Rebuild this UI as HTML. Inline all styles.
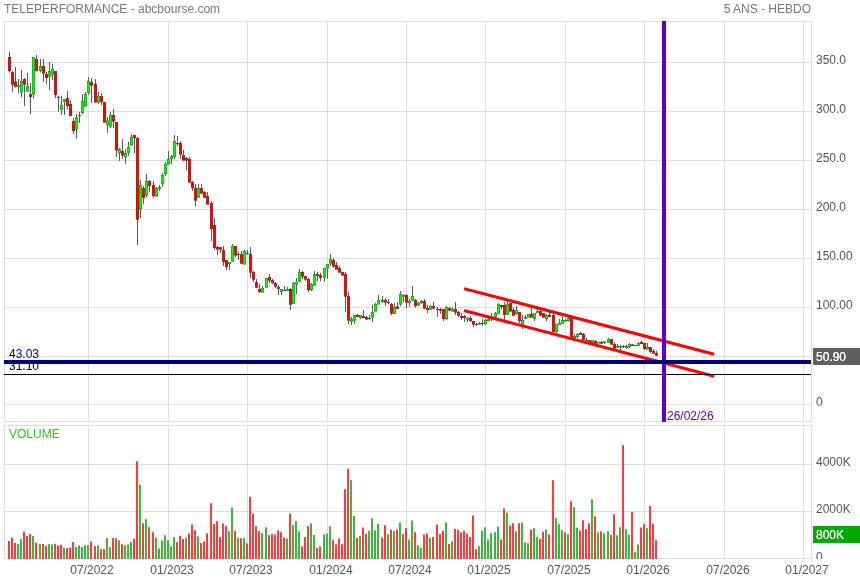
<!DOCTYPE html>
<html><head><meta charset="utf-8"><title>TELEPERFORMANCE - abcbourse.com</title>
<style>html,body{margin:0;padding:0;background:#fff;width:860px;height:580px;overflow:hidden}svg{display:block}text{font-family:"Liberation Sans",Arial,Helvetica,sans-serif;font-size:12px}</style></head><body>
<svg width="860" height="580" viewBox="0 0 860 580">
<rect width="860" height="580" fill="#fff"/>
<g shape-rendering="crispEdges" fill="#dddddd">
<rect x="88" y="21" width="1" height="401"/>
<rect x="88" y="425" width="1" height="134"/>
<rect x="168" y="21" width="1" height="401"/>
<rect x="168" y="425" width="1" height="134"/>
<rect x="247" y="21" width="1" height="401"/>
<rect x="247" y="425" width="1" height="134"/>
<rect x="327" y="21" width="1" height="401"/>
<rect x="327" y="425" width="1" height="134"/>
<rect x="406" y="21" width="1" height="401"/>
<rect x="406" y="425" width="1" height="134"/>
<rect x="485" y="21" width="1" height="401"/>
<rect x="485" y="425" width="1" height="134"/>
<rect x="565" y="21" width="1" height="401"/>
<rect x="565" y="425" width="1" height="134"/>
<rect x="644" y="21" width="1" height="401"/>
<rect x="644" y="425" width="1" height="134"/>
<rect x="724" y="21" width="1" height="401"/>
<rect x="724" y="425" width="1" height="134"/>
<rect x="803" y="21" width="1" height="401"/>
<rect x="803" y="425" width="1" height="134"/>
<rect x="4" y="62" width="808" height="1"/>
<rect x="4" y="111" width="808" height="1"/>
<rect x="4" y="160" width="808" height="1"/>
<rect x="4" y="209" width="808" height="1"/>
<rect x="4" y="258" width="808" height="1"/>
<rect x="4" y="307" width="808" height="1"/>
<rect x="4" y="356" width="808" height="1"/>
<rect x="4" y="404" width="808" height="1"/>
<rect x="3" y="464" width="809" height="1"/>
<rect x="3" y="511" width="809" height="1"/>
<rect x="4" y="21" width="808" height="1"/>
<rect x="4" y="421" width="808" height="1"/>
<rect x="4" y="21" width="1" height="401"/>
<rect x="811" y="21" width="1" height="401"/>
<rect x="4" y="425" width="808" height="1"/>
<rect x="4" y="558" width="808" height="1"/>
<rect x="4" y="425" width="1" height="134"/>
<rect x="811" y="425" width="1" height="134"/>
</g>
<g>
<g fill="#5a5a5a"><rect x="9" y="52.0" width="1" height="20.5"/><rect x="12" y="71.0" width="1" height="21.0"/><rect x="15" y="67.0" width="1" height="20.5"/><rect x="18" y="79.0" width="1" height="14.5"/><rect x="21" y="70.0" width="1" height="27.5"/><rect x="24" y="78.0" width="1" height="28.0"/><rect x="27" y="73.0" width="1" height="18.5"/><rect x="30" y="83.0" width="1" height="31.0"/><rect x="33" y="57.0" width="1" height="41.5"/><rect x="36" y="55.0" width="1" height="16.5"/><rect x="40" y="59.0" width="1" height="13.5"/><rect x="43" y="59.0" width="1" height="23.0"/><rect x="46" y="72.0" width="1" height="12.0"/><rect x="49" y="62.0" width="1" height="28.0"/><rect x="52" y="64.0" width="1" height="16.0"/><rect x="55" y="71.0" width="1" height="27.0"/><rect x="58" y="96.0" width="1" height="16.0"/><rect x="61" y="96.0" width="1" height="19.0"/><rect x="64" y="99.0" width="1" height="16.0"/><rect x="67" y="91.0" width="1" height="18.5"/><rect x="70" y="100.0" width="1" height="16.0"/><rect x="73" y="118.0" width="1" height="16.0"/><rect x="76" y="114.0" width="1" height="25.0"/><rect x="79" y="112.0" width="1" height="11.0"/><rect x="82" y="94.0" width="1" height="20.0"/><rect x="85" y="92.0" width="1" height="14.5"/><rect x="88" y="77.0" width="1" height="18.0"/><rect x="91" y="78.0" width="1" height="25.0"/><rect x="95" y="79.0" width="1" height="23.5"/><rect x="98" y="92.0" width="1" height="12.0"/><rect x="101" y="93.0" width="1" height="12.0"/><rect x="104" y="102.0" width="1" height="20.5"/><rect x="107" y="117.0" width="1" height="16.0"/><rect x="110" y="112.0" width="1" height="16.0"/><rect x="113" y="109.0" width="1" height="19.0"/><rect x="116" y="122.0" width="1" height="35.0"/><rect x="119" y="148.0" width="1" height="13.0"/><rect x="122" y="139.0" width="1" height="20.0"/><rect x="125" y="149.0" width="1" height="15.0"/><rect x="128" y="142.0" width="1" height="14.0"/><rect x="131" y="134.0" width="1" height="11.5"/><rect x="134" y="135.0" width="1" height="18.0"/><rect x="137" y="137.0" width="1" height="108.0"/><rect x="140" y="180.0" width="1" height="38.0"/><rect x="143" y="186.0" width="1" height="18.0"/><rect x="146" y="174.0" width="1" height="23.0"/><rect x="149" y="180.0" width="1" height="12.0"/><rect x="153" y="181.0" width="1" height="17.0"/><rect x="156" y="187.0" width="1" height="9.5"/><rect x="159" y="185.0" width="1" height="6.0"/><rect x="162" y="173.0" width="1" height="14.0"/><rect x="165" y="162.0" width="1" height="14.0"/><rect x="168" y="151.0" width="1" height="13.5"/><rect x="171" y="155.0" width="1" height="9.0"/><rect x="174" y="135.0" width="1" height="24.0"/><rect x="177" y="136.0" width="1" height="10.0"/><rect x="180" y="141.0" width="1" height="18.0"/><rect x="183" y="150.0" width="1" height="10.5"/><rect x="186" y="157.0" width="1" height="13.0"/><rect x="189" y="157.0" width="1" height="25.5"/><rect x="192" y="181.0" width="1" height="10.0"/><rect x="195" y="184.0" width="1" height="22.0"/><rect x="198" y="184.0" width="1" height="14.0"/><rect x="201" y="184.0" width="1" height="9.5"/><rect x="204" y="191.0" width="1" height="7.0"/><rect x="207" y="192.0" width="1" height="12.5"/><rect x="211" y="201.0" width="1" height="40.0"/><rect x="214" y="218.0" width="1" height="32.0"/><rect x="217" y="246.0" width="1" height="9.0"/><rect x="220" y="247.0" width="1" height="6.0"/><rect x="223" y="246.0" width="1" height="20.0"/><rect x="226" y="260.0" width="1" height="10.0"/><rect x="229" y="262.0" width="1" height="8.0"/><rect x="232" y="244.0" width="1" height="17.5"/><rect x="235" y="246.0" width="1" height="11.0"/><rect x="238" y="252.0" width="1" height="8.0"/><rect x="241" y="251.0" width="1" height="13.0"/><rect x="244" y="250.0" width="1" height="14.5"/><rect x="247" y="250.0" width="1" height="5.0"/><rect x="250" y="247.0" width="1" height="31.0"/><rect x="253" y="271.0" width="1" height="11.0"/><rect x="256" y="279.0" width="1" height="9.0"/><rect x="259" y="284.0" width="1" height="9.0"/><rect x="262" y="286.0" width="1" height="6.5"/><rect x="266" y="278.0" width="1" height="9.5"/><rect x="269" y="274.0" width="1" height="9.0"/><rect x="272" y="279.0" width="1" height="5.0"/><rect x="275" y="282.0" width="1" height="6.0"/><rect x="278" y="285.0" width="1" height="10.0"/><rect x="281" y="289.0" width="1" height="6.0"/><rect x="284" y="286.0" width="1" height="5.0"/><rect x="287" y="287.0" width="1" height="4.0"/><rect x="290" y="288.0" width="1" height="22.0"/><rect x="293" y="282.0" width="1" height="22.0"/><rect x="296" y="278.0" width="1" height="16.0"/><rect x="299" y="269.0" width="1" height="13.0"/><rect x="302" y="271.0" width="1" height="8.0"/><rect x="305" y="276.0" width="1" height="5.0"/><rect x="308" y="278.0" width="1" height="14.0"/><rect x="311" y="283.0" width="1" height="8.0"/><rect x="314" y="271.0" width="1" height="14.5"/><rect x="317" y="272.0" width="1" height="9.0"/><rect x="320" y="273.0" width="1" height="8.0"/><rect x="324" y="268.0" width="1" height="14.0"/><rect x="327" y="264.0" width="1" height="15.0"/><rect x="330" y="254.0" width="1" height="12.0"/><rect x="333" y="258.0" width="1" height="10.0"/><rect x="336" y="262.0" width="1" height="7.5"/><rect x="339" y="266.0" width="1" height="6.5"/><rect x="342" y="272.0" width="1" height="3.5"/><rect x="345" y="272.0" width="1" height="40.0"/><rect x="348" y="292.0" width="1" height="32.0"/><rect x="351" y="317.0" width="1" height="8.0"/><rect x="354" y="315.0" width="1" height="9.0"/><rect x="357" y="314.0" width="1" height="3.0"/><rect x="360" y="315.0" width="1" height="4.0"/><rect x="363" y="310.0" width="1" height="8.0"/><rect x="366" y="316.0" width="1" height="4.0"/><rect x="369" y="315.0" width="1" height="5.0"/><rect x="372" y="305.0" width="1" height="17.0"/><rect x="375" y="303.0" width="1" height="8.5"/><rect x="378" y="295.0" width="1" height="9.5"/><rect x="382" y="296.0" width="1" height="7.0"/><rect x="385" y="298.0" width="1" height="8.0"/><rect x="388" y="299.0" width="1" height="5.0"/><rect x="391" y="303.0" width="1" height="12.0"/><rect x="394" y="303.0" width="1" height="11.0"/><rect x="397" y="302.0" width="1" height="7.0"/><rect x="400" y="291.0" width="1" height="15.0"/><rect x="403" y="294.0" width="1" height="8.0"/><rect x="406" y="294.0" width="1" height="14.0"/><rect x="409" y="299.0" width="1" height="8.0"/><rect x="412" y="286.0" width="1" height="15.0"/><rect x="415" y="299.0" width="1" height="9.0"/><rect x="418" y="302.0" width="1" height="4.0"/><rect x="421" y="300.0" width="1" height="4.0"/><rect x="424" y="299.0" width="1" height="10.0"/><rect x="427" y="305.0" width="1" height="8.0"/><rect x="430" y="305.0" width="1" height="5.0"/><rect x="433" y="302.0" width="1" height="7.0"/><rect x="437" y="307.0" width="1" height="10.0"/><rect x="440" y="308.0" width="1" height="6.0"/><rect x="443" y="309.0" width="1" height="12.0"/><rect x="446" y="306.0" width="1" height="14.0"/><rect x="449" y="307.0" width="1" height="4.0"/><rect x="452" y="307.0" width="1" height="5.0"/><rect x="455" y="302.0" width="1" height="13.0"/><rect x="458" y="311.0" width="1" height="6.0"/><rect x="461" y="313.0" width="1" height="7.0"/><rect x="464" y="315.0" width="1" height="7.0"/><rect x="467" y="317.0" width="1" height="5.0"/><rect x="470" y="316.0" width="1" height="6.0"/><rect x="473" y="321.0" width="1" height="6.0"/><rect x="476" y="323.0" width="1" height="3.0"/><rect x="479" y="322.0" width="1" height="3.0"/><rect x="482" y="319.0" width="1" height="7.0"/><rect x="485" y="319.0" width="1" height="6.0"/><rect x="488" y="318.0" width="1" height="3.0"/><rect x="491" y="313.0" width="1" height="8.0"/><rect x="495" y="312.0" width="1" height="5.5"/><rect x="498" y="303.0" width="1" height="11.0"/><rect x="501" y="305.0" width="1" height="4.0"/><rect x="504" y="302.0" width="1" height="18.0"/><rect x="507" y="301.0" width="1" height="14.0"/><rect x="510" y="303.0" width="1" height="8.5"/><rect x="513" y="308.0" width="1" height="8.0"/><rect x="516" y="306.0" width="1" height="9.0"/><rect x="519" y="312.0" width="1" height="11.0"/><rect x="522" y="315.0" width="1" height="14.0"/><rect x="525" y="315.0" width="1" height="4.0"/><rect x="528" y="314.0" width="1" height="3.5"/><rect x="531" y="308.0" width="1" height="9.5"/><rect x="534" y="313.0" width="1" height="8.0"/><rect x="537" y="306.0" width="1" height="7.0"/><rect x="540" y="310.0" width="1" height="6.0"/><rect x="543" y="313.0" width="1" height="5.0"/><rect x="546" y="314.0" width="1" height="7.0"/><rect x="549" y="312.0" width="1" height="5.0"/><rect x="553" y="310.0" width="1" height="22.0"/><rect x="556" y="324.0" width="1" height="9.0"/><rect x="559" y="319.0" width="1" height="6.0"/><rect x="562" y="316.0" width="1" height="8.0"/><rect x="565" y="319.0" width="1" height="2.5"/><rect x="568" y="317.0" width="1" height="4.5"/><rect x="571" y="318.0" width="1" height="19.5"/><rect x="574" y="334.0" width="1" height="4.0"/><rect x="577" y="333.0" width="1" height="5.0"/><rect x="580" y="332.0" width="1" height="3.0"/><rect x="583" y="333.0" width="1" height="7.5"/><rect x="586" y="338.0" width="1" height="3.0"/><rect x="589" y="340.0" width="1" height="3.0"/><rect x="592" y="340.0" width="1" height="3.0"/><rect x="595" y="340.0" width="1" height="3.5"/><rect x="598" y="342.0" width="1" height="1.5"/><rect x="601" y="341.0" width="1" height="3.0"/><rect x="604" y="341.0" width="1" height="3.0"/><rect x="608" y="338.0" width="1" height="5.0"/><rect x="611" y="339.0" width="1" height="5.5"/><rect x="614" y="342.0" width="1" height="7.0"/><rect x="617" y="344.0" width="1" height="4.0"/><rect x="620" y="345.0" width="1" height="5.0"/><rect x="623" y="345.0" width="1" height="3.0"/><rect x="626" y="345.0" width="1" height="4.0"/><rect x="629" y="343.0" width="1" height="5.0"/><rect x="632" y="344.0" width="1" height="2.0"/><rect x="635" y="345.0" width="1" height="1"/><rect x="638" y="342.0" width="1" height="4.0"/><rect x="641" y="341.0" width="1" height="3.0"/><rect x="644" y="343.0" width="1" height="7.0"/><rect x="647" y="343.0" width="1" height="7.0"/><rect x="650" y="347.0" width="1" height="6.0"/><rect x="653" y="349.0" width="1" height="5.0"/><rect x="656" y="351.0" width="1" height="5.0"/></g>
<g><rect x="8" y="57.0" width="3" height="14.0" fill="#ff0000"/><rect x="11" y="72.0" width="3" height="12.5" fill="#ff0000"/><rect x="14" y="81.5" width="3" height="5.0" fill="#ff0000"/><rect x="17" y="85.0" width="3" height="2.0" fill="#00ff00"/><rect x="20" y="81.0" width="3" height="11.5" fill="#00ff00"/><rect x="23" y="79.0" width="3" height="5.5" fill="#ff0000"/><rect x="26" y="86.0" width="3" height="5.5" fill="#00ff00"/><rect x="29" y="94.0" width="3" height="3.0" fill="#ff0000"/><rect x="32" y="57.0" width="3" height="37.5" fill="#00ff00"/><rect x="35" y="59.0" width="3" height="12.0" fill="#ff0000"/><rect x="39" y="66.0" width="3" height="5.0" fill="#00ff00"/><rect x="42" y="66.0" width="3" height="7.5" fill="#ff0000"/><rect x="45" y="74.0" width="3" height="4.0" fill="#ff0000"/><rect x="48" y="71.0" width="3" height="5.5" fill="#00ff00"/><rect x="51" y="69.0" width="3" height="5.5" fill="#00ff00"/><rect x="54" y="71.0" width="3" height="24.0" fill="#ff0000"/><rect x="57" y="97" width="3" height="1" fill="#4c4c4c"/><rect x="60" y="105.0" width="3" height="4.5" fill="#00ff00"/><rect x="63" y="99.5" width="3" height="2.5" fill="#00ff00"/><rect x="66" y="98.0" width="3" height="8.0" fill="#ff0000"/><rect x="69" y="104.0" width="3" height="12.0" fill="#ff0000"/><rect x="72" y="121.0" width="3" height="10.0" fill="#ff0000"/><rect x="75" y="117.0" width="3" height="12.5" fill="#00ff00"/><rect x="78" y="115" width="3" height="1" fill="#4c4c4c"/><rect x="81" y="101.0" width="3" height="12.0" fill="#00ff00"/><rect x="84" y="94.0" width="3" height="12.5" fill="#00ff00"/><rect x="87" y="81.0" width="3" height="12.0" fill="#00ff00"/><rect x="90" y="82.0" width="3" height="3.5" fill="#ff0000"/><rect x="94" y="84.0" width="3" height="18.5" fill="#ff0000"/><rect x="97" y="96.0" width="3" height="6.5" fill="#00ff00"/><rect x="100" y="96.0" width="3" height="6.0" fill="#ff0000"/><rect x="103" y="102.0" width="3" height="20.5" fill="#ff0000"/><rect x="106" y="120.5" width="3" height="4.5" fill="#00ff00"/><rect x="109" y="115.0" width="3" height="11.5" fill="#00ff00"/><rect x="112" y="115.0" width="3" height="6.5" fill="#ff0000"/><rect x="115" y="122.0" width="3" height="28.5" fill="#ff0000"/><rect x="118" y="149.0" width="3" height="4.0" fill="#00ff00"/><rect x="121" y="151.0" width="3" height="4.5" fill="#ff0000"/><rect x="124" y="153.0" width="3" height="4.0" fill="#00ff00"/><rect x="127" y="147.0" width="3" height="6.0" fill="#00ff00"/><rect x="130" y="137.0" width="3" height="8.5" fill="#00ff00"/><rect x="133" y="135.0" width="3" height="3.0" fill="#ff0000"/><rect x="136" y="138.0" width="3" height="81.5" fill="#ff0000"/><rect x="139" y="185.0" width="3" height="24.5" fill="#00ff00"/><rect x="142" y="188.0" width="3" height="10.0" fill="#ff0000"/><rect x="145" y="181.0" width="3" height="14.5" fill="#00ff00"/><rect x="148" y="181.0" width="3" height="5.0" fill="#ff0000"/><rect x="152" y="185.0" width="3" height="11.0" fill="#ff0000"/><rect x="155" y="188.5" width="3" height="8.0" fill="#00ff00"/><rect x="158" y="187.0" width="3" height="2.0" fill="#00ff00"/><rect x="161" y="175.0" width="3" height="9.0" fill="#00ff00"/><rect x="164" y="164.0" width="3" height="10.0" fill="#00ff00"/><rect x="167" y="159.0" width="3" height="5.5" fill="#00ff00"/><rect x="170" y="156.0" width="3" height="3.0" fill="#00ff00"/><rect x="173" y="141.0" width="3" height="16.0" fill="#00ff00"/><rect x="176" y="143" width="3" height="1" fill="#4c4c4c"/><rect x="179" y="143.0" width="3" height="11.5" fill="#ff0000"/><rect x="182" y="155.0" width="3" height="5.5" fill="#ff0000"/><rect x="185" y="158.0" width="3" height="2.5" fill="#ff0000"/><rect x="188" y="159.0" width="3" height="23.5" fill="#ff0000"/><rect x="191" y="182.0" width="3" height="6.0" fill="#ff0000"/><rect x="194" y="188.0" width="3" height="12.5" fill="#ff0000"/><rect x="197" y="188.0" width="3" height="9.5" fill="#00ff00"/><rect x="200" y="188.0" width="3" height="5.5" fill="#ff0000"/><rect x="203" y="192.0" width="3" height="5.5" fill="#ff0000"/><rect x="206" y="196.0" width="3" height="8.5" fill="#ff0000"/><rect x="210" y="203.0" width="3" height="26.0" fill="#ff0000"/><rect x="213" y="225.0" width="3" height="23.0" fill="#ff0000"/><rect x="216" y="247.0" width="3" height="2.5" fill="#ff0000"/><rect x="219" y="247.0" width="3" height="2.5" fill="#ff0000"/><rect x="222" y="250.0" width="3" height="12.0" fill="#ff0000"/><rect x="225" y="260.0" width="3" height="7.0" fill="#ff0000"/><rect x="228" y="262.0" width="3" height="2.0" fill="#00ff00"/><rect x="231" y="246.0" width="3" height="15.5" fill="#00ff00"/><rect x="234" y="246.0" width="3" height="9.5" fill="#ff0000"/><rect x="237" y="254" width="3" height="1" fill="#4c4c4c"/><rect x="240" y="254.0" width="3" height="9.5" fill="#ff0000"/><rect x="243" y="251.0" width="3" height="13.5" fill="#00ff00"/><rect x="246" y="253" width="3" height="1" fill="#4c4c4c"/><rect x="249" y="254.0" width="3" height="18.5" fill="#ff0000"/><rect x="252" y="272.0" width="3" height="7.5" fill="#ff0000"/><rect x="255" y="282.0" width="3" height="5.5" fill="#ff0000"/><rect x="258" y="289.0" width="3" height="3.0" fill="#ff0000"/><rect x="261" y="288.0" width="3" height="4.5" fill="#00ff00"/><rect x="265" y="278.0" width="3" height="9.5" fill="#00ff00"/><rect x="268" y="277.0" width="3" height="3.5" fill="#ff0000"/><rect x="271" y="280.0" width="3" height="3.0" fill="#ff0000"/><rect x="274" y="283.0" width="3" height="3.5" fill="#ff0000"/><rect x="277" y="287.0" width="3" height="2.0" fill="#ff0000"/><rect x="280" y="289.0" width="3" height="3.0" fill="#00ff00"/><rect x="283" y="290" width="3" height="1" fill="#4c4c4c"/><rect x="286" y="289.0" width="3" height="2.0" fill="#00ff00"/><rect x="289" y="289.0" width="3" height="15.5" fill="#ff0000"/><rect x="292" y="283.0" width="3" height="21.0" fill="#00ff00"/><rect x="295" y="282.0" width="3" height="2.0" fill="#00ff00"/><rect x="298" y="272.0" width="3" height="9.5" fill="#00ff00"/><rect x="301" y="272.0" width="3" height="4.5" fill="#ff0000"/><rect x="304" y="276.0" width="3" height="3.5" fill="#ff0000"/><rect x="307" y="279.0" width="3" height="11.0" fill="#ff0000"/><rect x="310" y="284.0" width="3" height="6.0" fill="#00ff00"/><rect x="313" y="274.0" width="3" height="11.5" fill="#00ff00"/><rect x="316" y="274.0" width="3" height="2.0" fill="#ff0000"/><rect x="319" y="275.0" width="3" height="3.0" fill="#ff0000"/><rect x="323" y="268.0" width="3" height="9.5" fill="#00ff00"/><rect x="326" y="264.0" width="3" height="4.5" fill="#00ff00"/><rect x="329" y="259.0" width="3" height="4.5" fill="#00ff00"/><rect x="332" y="260.0" width="3" height="6.5" fill="#ff0000"/><rect x="335" y="265.0" width="3" height="4.5" fill="#ff0000"/><rect x="338" y="268.0" width="3" height="4.5" fill="#ff0000"/><rect x="341" y="272.0" width="3" height="3.5" fill="#ff0000"/><rect x="344" y="274.0" width="3" height="22.5" fill="#ff0000"/><rect x="347" y="296.0" width="3" height="24.5" fill="#ff0000"/><rect x="350" y="319.0" width="3" height="3.0" fill="#00ff00"/><rect x="353" y="315.0" width="3" height="5.5" fill="#00ff00"/><rect x="356" y="315.0" width="3" height="2.0" fill="#ff0000"/><rect x="359" y="315.0" width="3" height="3.0" fill="#00ff00"/><rect x="362" y="316.0" width="3" height="2.0" fill="#ff0000"/><rect x="365" y="317.0" width="3" height="2.5" fill="#ff0000"/><rect x="368" y="318" width="3" height="1" fill="#4c4c4c"/><rect x="371" y="312.0" width="3" height="5.5" fill="#00ff00"/><rect x="374" y="304.0" width="3" height="7.5" fill="#00ff00"/><rect x="377" y="300.0" width="3" height="4.5" fill="#00ff00"/><rect x="381" y="300.0" width="3" height="2.0" fill="#00ff00"/><rect x="384" y="300.0" width="3" height="2.5" fill="#ff0000"/><rect x="387" y="302" width="3" height="1" fill="#4c4c4c"/><rect x="390" y="304.0" width="3" height="9.5" fill="#ff0000"/><rect x="393" y="306.5" width="3" height="7.5" fill="#00ff00"/><rect x="396" y="306.5" width="3" height="2.5" fill="#ff0000"/><rect x="399" y="294.0" width="3" height="10.5" fill="#00ff00"/><rect x="402" y="295.0" width="3" height="2.0" fill="#00ff00"/><rect x="405" y="295.0" width="3" height="7.5" fill="#ff0000"/><rect x="408" y="301.0" width="3" height="2.0" fill="#00ff00"/><rect x="411" y="296.0" width="3" height="4.5" fill="#00ff00"/><rect x="414" y="300.0" width="3" height="6.0" fill="#ff0000"/><rect x="417" y="302.5" width="3" height="2.5" fill="#00ff00"/><rect x="420" y="301.0" width="3" height="2.0" fill="#00ff00"/><rect x="423" y="301.0" width="3" height="7.5" fill="#ff0000"/><rect x="426" y="308.0" width="3" height="2.0" fill="#ff0000"/><rect x="429" y="306.0" width="3" height="3.5" fill="#00ff00"/><rect x="432" y="306.0" width="3" height="2.5" fill="#ff0000"/><rect x="436" y="309" width="3" height="1" fill="#4c4c4c"/><rect x="439" y="309.0" width="3" height="1.5" fill="#ff0000"/><rect x="442" y="309.0" width="3" height="10.0" fill="#ff0000"/><rect x="445" y="307.0" width="3" height="12.0" fill="#00ff00"/><rect x="448" y="308.0" width="3" height="2.5" fill="#ff0000"/><rect x="451" y="309.0" width="3" height="2.5" fill="#00ff00"/><rect x="454" y="309.0" width="3" height="3.5" fill="#ff0000"/><rect x="457" y="312.0" width="3" height="3.5" fill="#ff0000"/><rect x="460" y="316.0" width="3" height="2.0" fill="#ff0000"/><rect x="463" y="316.0" width="3" height="2.0" fill="#ff0000"/><rect x="466" y="318.0" width="3" height="1.5" fill="#00ff00"/><rect x="469" y="318.0" width="3" height="3.0" fill="#ff0000"/><rect x="472" y="321.0" width="3" height="3.5" fill="#ff0000"/><rect x="475" y="324" width="3" height="1" fill="#4c4c4c"/><rect x="478" y="323.0" width="3" height="1.5" fill="#00ff00"/><rect x="481" y="323" width="3" height="1" fill="#4c4c4c"/><rect x="484" y="320.0" width="3" height="4.0" fill="#00ff00"/><rect x="487" y="319.0" width="3" height="2.0" fill="#00ff00"/><rect x="490" y="318.0" width="3" height="1.5" fill="#00ff00"/><rect x="494" y="313.0" width="3" height="4.5" fill="#00ff00"/><rect x="497" y="304.0" width="3" height="9.5" fill="#00ff00"/><rect x="500" y="305.0" width="3" height="2.0" fill="#ff0000"/><rect x="503" y="305.0" width="3" height="10.0" fill="#ff0000"/><rect x="506" y="304.0" width="3" height="10.5" fill="#00ff00"/><rect x="509" y="303.0" width="3" height="8.5" fill="#ff0000"/><rect x="512" y="310.0" width="3" height="5.5" fill="#ff0000"/><rect x="515" y="310.0" width="3" height="4.0" fill="#00ff00"/><rect x="518" y="312.0" width="3" height="9.0" fill="#ff0000"/><rect x="521" y="320.0" width="3" height="5.0" fill="#00ff00"/><rect x="524" y="317.0" width="3" height="2.0" fill="#00ff00"/><rect x="527" y="314.0" width="3" height="3.5" fill="#00ff00"/><rect x="530" y="314.0" width="3" height="3.5" fill="#ff0000"/><rect x="533" y="313.0" width="3" height="6.0" fill="#00ff00"/><rect x="536" y="311.0" width="3" height="2.0" fill="#00ff00"/><rect x="539" y="311.0" width="3" height="4.5" fill="#ff0000"/><rect x="542" y="313.0" width="3" height="4.5" fill="#ff0000"/><rect x="545" y="315.0" width="3" height="4.0" fill="#00ff00"/><rect x="548" y="315.0" width="3" height="2.0" fill="#ff0000"/><rect x="552" y="315.0" width="3" height="17.0" fill="#ff0000"/><rect x="555" y="324.0" width="3" height="8.0" fill="#00ff00"/><rect x="558" y="323.0" width="3" height="2.0" fill="#00ff00"/><rect x="561" y="320.0" width="3" height="3.5" fill="#00ff00"/><rect x="564" y="320.0" width="3" height="1.5" fill="#00ff00"/><rect x="567" y="318.0" width="3" height="3.0" fill="#00ff00"/><rect x="570" y="318.0" width="3" height="19.5" fill="#ff0000"/><rect x="573" y="336.0" width="3" height="2.0" fill="#00ff00"/><rect x="576" y="334.0" width="3" height="3.0" fill="#00ff00"/><rect x="579" y="333.0" width="3" height="2.0" fill="#ff0000"/><rect x="582" y="334.0" width="3" height="6.0" fill="#ff0000"/><rect x="585" y="340" width="3" height="1" fill="#4c4c4c"/><rect x="588" y="340.5" width="3" height="2.5" fill="#ff0000"/><rect x="591" y="340.0" width="3" height="3.0" fill="#00ff00"/><rect x="594" y="341.0" width="3" height="2.5" fill="#ff0000"/><rect x="597" y="342.0" width="3" height="1.5" fill="#00ff00"/><rect x="600" y="342.0" width="3" height="1.5" fill="#ff0000"/><rect x="603" y="341.5" width="3" height="1.5" fill="#00ff00"/><rect x="607" y="339.0" width="3" height="3.5" fill="#00ff00"/><rect x="610" y="339.0" width="3" height="5.5" fill="#ff0000"/><rect x="613" y="344.0" width="3" height="4.5" fill="#ff0000"/><rect x="616" y="346.0" width="3" height="1.5" fill="#00ff00"/><rect x="619" y="346.0" width="3" height="1.5" fill="#00ff00"/><rect x="622" y="346" width="3" height="1" fill="#4c4c4c"/><rect x="625" y="346.0" width="3" height="2.0" fill="#00ff00"/><rect x="628" y="344.0" width="3" height="3.0" fill="#00ff00"/><rect x="631" y="344.5" width="3" height="1.5" fill="#ff0000"/><rect x="634" y="345" width="3" height="1" fill="#4c4c4c"/><rect x="637" y="343.0" width="3" height="2.5" fill="#00ff00"/><rect x="640" y="342.0" width="3" height="2.0" fill="#ff0000"/><rect x="643" y="343.0" width="3" height="6.0" fill="#ff0000"/><rect x="646" y="347.0" width="3" height="2.5" fill="#00ff00"/><rect x="649" y="347.0" width="3" height="5.0" fill="#ff0000"/><rect x="652" y="351.0" width="3" height="2.5" fill="#ff0000"/><rect x="655" y="353.0" width="3" height="2.5" fill="#ff0000"/></g>
<g fill="#484848" fill-opacity="0.36"><rect x="8" y="57.0" width="3" height="1"/><rect x="8" y="70.0" width="3" height="1"/><rect x="8" y="57.0" width="1" height="14.0"/><rect x="10" y="57.0" width="1" height="14.0"/><rect x="11" y="72.0" width="3" height="1"/><rect x="11" y="83.5" width="3" height="1"/><rect x="11" y="72.0" width="1" height="12.5"/><rect x="13" y="72.0" width="1" height="12.5"/><rect x="14" y="81.5" width="3" height="1"/><rect x="14" y="85.5" width="3" height="1"/><rect x="14" y="81.5" width="1" height="5.0"/><rect x="16" y="81.5" width="1" height="5.0"/><rect x="17" y="85.0" width="3" height="1"/><rect x="17" y="86.0" width="3" height="1"/><rect x="17" y="85.0" width="1" height="2.0"/><rect x="19" y="85.0" width="1" height="2.0"/><rect x="20" y="81.0" width="3" height="1"/><rect x="20" y="91.5" width="3" height="1"/><rect x="20" y="81.0" width="1" height="11.5"/><rect x="22" y="81.0" width="1" height="11.5"/><rect x="23" y="79.0" width="3" height="1"/><rect x="23" y="83.5" width="3" height="1"/><rect x="23" y="79.0" width="1" height="5.5"/><rect x="25" y="79.0" width="1" height="5.5"/><rect x="26" y="86.0" width="3" height="1"/><rect x="26" y="90.5" width="3" height="1"/><rect x="26" y="86.0" width="1" height="5.5"/><rect x="28" y="86.0" width="1" height="5.5"/><rect x="29" y="94.0" width="3" height="1"/><rect x="29" y="96.0" width="3" height="1"/><rect x="29" y="94.0" width="1" height="3.0"/><rect x="31" y="94.0" width="1" height="3.0"/><rect x="32" y="57.0" width="3" height="1"/><rect x="32" y="93.5" width="3" height="1"/><rect x="32" y="57.0" width="1" height="37.5"/><rect x="34" y="57.0" width="1" height="37.5"/><rect x="35" y="59.0" width="3" height="1"/><rect x="35" y="70.0" width="3" height="1"/><rect x="35" y="59.0" width="1" height="12.0"/><rect x="37" y="59.0" width="1" height="12.0"/><rect x="39" y="66.0" width="3" height="1"/><rect x="39" y="70.0" width="3" height="1"/><rect x="39" y="66.0" width="1" height="5.0"/><rect x="41" y="66.0" width="1" height="5.0"/><rect x="42" y="66.0" width="3" height="1"/><rect x="42" y="72.5" width="3" height="1"/><rect x="42" y="66.0" width="1" height="7.5"/><rect x="44" y="66.0" width="1" height="7.5"/><rect x="45" y="74.0" width="3" height="1"/><rect x="45" y="77.0" width="3" height="1"/><rect x="45" y="74.0" width="1" height="4.0"/><rect x="47" y="74.0" width="1" height="4.0"/><rect x="48" y="71.0" width="3" height="1"/><rect x="48" y="75.5" width="3" height="1"/><rect x="48" y="71.0" width="1" height="5.5"/><rect x="50" y="71.0" width="1" height="5.5"/><rect x="51" y="69.0" width="3" height="1"/><rect x="51" y="73.5" width="3" height="1"/><rect x="51" y="69.0" width="1" height="5.5"/><rect x="53" y="69.0" width="1" height="5.5"/><rect x="54" y="71.0" width="3" height="1"/><rect x="54" y="94.0" width="3" height="1"/><rect x="54" y="71.0" width="1" height="24.0"/><rect x="56" y="71.0" width="1" height="24.0"/><rect x="60" y="105.0" width="3" height="1"/><rect x="60" y="108.5" width="3" height="1"/><rect x="60" y="105.0" width="1" height="4.5"/><rect x="62" y="105.0" width="1" height="4.5"/><rect x="63" y="99.5" width="3" height="1"/><rect x="63" y="101.0" width="3" height="1"/><rect x="63" y="99.5" width="1" height="2.5"/><rect x="65" y="99.5" width="1" height="2.5"/><rect x="66" y="98.0" width="3" height="1"/><rect x="66" y="105.0" width="3" height="1"/><rect x="66" y="98.0" width="1" height="8.0"/><rect x="68" y="98.0" width="1" height="8.0"/><rect x="69" y="104.0" width="3" height="1"/><rect x="69" y="115.0" width="3" height="1"/><rect x="69" y="104.0" width="1" height="12.0"/><rect x="71" y="104.0" width="1" height="12.0"/><rect x="72" y="121.0" width="3" height="1"/><rect x="72" y="130.0" width="3" height="1"/><rect x="72" y="121.0" width="1" height="10.0"/><rect x="74" y="121.0" width="1" height="10.0"/><rect x="75" y="117.0" width="3" height="1"/><rect x="75" y="128.5" width="3" height="1"/><rect x="75" y="117.0" width="1" height="12.5"/><rect x="77" y="117.0" width="1" height="12.5"/><rect x="81" y="101.0" width="3" height="1"/><rect x="81" y="112.0" width="3" height="1"/><rect x="81" y="101.0" width="1" height="12.0"/><rect x="83" y="101.0" width="1" height="12.0"/><rect x="84" y="94.0" width="3" height="1"/><rect x="84" y="105.5" width="3" height="1"/><rect x="84" y="94.0" width="1" height="12.5"/><rect x="86" y="94.0" width="1" height="12.5"/><rect x="87" y="81.0" width="3" height="1"/><rect x="87" y="92.0" width="3" height="1"/><rect x="87" y="81.0" width="1" height="12.0"/><rect x="89" y="81.0" width="1" height="12.0"/><rect x="90" y="82.0" width="3" height="1"/><rect x="90" y="84.5" width="3" height="1"/><rect x="90" y="82.0" width="1" height="3.5"/><rect x="92" y="82.0" width="1" height="3.5"/><rect x="94" y="84.0" width="3" height="1"/><rect x="94" y="101.5" width="3" height="1"/><rect x="94" y="84.0" width="1" height="18.5"/><rect x="96" y="84.0" width="1" height="18.5"/><rect x="97" y="96.0" width="3" height="1"/><rect x="97" y="101.5" width="3" height="1"/><rect x="97" y="96.0" width="1" height="6.5"/><rect x="99" y="96.0" width="1" height="6.5"/><rect x="100" y="96.0" width="3" height="1"/><rect x="100" y="101.0" width="3" height="1"/><rect x="100" y="96.0" width="1" height="6.0"/><rect x="102" y="96.0" width="1" height="6.0"/><rect x="103" y="102.0" width="3" height="1"/><rect x="103" y="121.5" width="3" height="1"/><rect x="103" y="102.0" width="1" height="20.5"/><rect x="105" y="102.0" width="1" height="20.5"/><rect x="106" y="120.5" width="3" height="1"/><rect x="106" y="124.0" width="3" height="1"/><rect x="106" y="120.5" width="1" height="4.5"/><rect x="108" y="120.5" width="1" height="4.5"/><rect x="109" y="115.0" width="3" height="1"/><rect x="109" y="125.5" width="3" height="1"/><rect x="109" y="115.0" width="1" height="11.5"/><rect x="111" y="115.0" width="1" height="11.5"/><rect x="112" y="115.0" width="3" height="1"/><rect x="112" y="120.5" width="3" height="1"/><rect x="112" y="115.0" width="1" height="6.5"/><rect x="114" y="115.0" width="1" height="6.5"/><rect x="115" y="122.0" width="3" height="1"/><rect x="115" y="149.5" width="3" height="1"/><rect x="115" y="122.0" width="1" height="28.5"/><rect x="117" y="122.0" width="1" height="28.5"/><rect x="118" y="149.0" width="3" height="1"/><rect x="118" y="152.0" width="3" height="1"/><rect x="118" y="149.0" width="1" height="4.0"/><rect x="120" y="149.0" width="1" height="4.0"/><rect x="121" y="151.0" width="3" height="1"/><rect x="121" y="154.5" width="3" height="1"/><rect x="121" y="151.0" width="1" height="4.5"/><rect x="123" y="151.0" width="1" height="4.5"/><rect x="124" y="153.0" width="3" height="1"/><rect x="124" y="156.0" width="3" height="1"/><rect x="124" y="153.0" width="1" height="4.0"/><rect x="126" y="153.0" width="1" height="4.0"/><rect x="127" y="147.0" width="3" height="1"/><rect x="127" y="152.0" width="3" height="1"/><rect x="127" y="147.0" width="1" height="6.0"/><rect x="129" y="147.0" width="1" height="6.0"/><rect x="130" y="137.0" width="3" height="1"/><rect x="130" y="144.5" width="3" height="1"/><rect x="130" y="137.0" width="1" height="8.5"/><rect x="132" y="137.0" width="1" height="8.5"/><rect x="133" y="135.0" width="3" height="1"/><rect x="133" y="137.0" width="3" height="1"/><rect x="133" y="135.0" width="1" height="3.0"/><rect x="135" y="135.0" width="1" height="3.0"/><rect x="136" y="138.0" width="3" height="1"/><rect x="136" y="218.5" width="3" height="1"/><rect x="136" y="138.0" width="1" height="81.5"/><rect x="138" y="138.0" width="1" height="81.5"/><rect x="139" y="185.0" width="3" height="1"/><rect x="139" y="208.5" width="3" height="1"/><rect x="139" y="185.0" width="1" height="24.5"/><rect x="141" y="185.0" width="1" height="24.5"/><rect x="142" y="188.0" width="3" height="1"/><rect x="142" y="197.0" width="3" height="1"/><rect x="142" y="188.0" width="1" height="10.0"/><rect x="144" y="188.0" width="1" height="10.0"/><rect x="145" y="181.0" width="3" height="1"/><rect x="145" y="194.5" width="3" height="1"/><rect x="145" y="181.0" width="1" height="14.5"/><rect x="147" y="181.0" width="1" height="14.5"/><rect x="148" y="181.0" width="3" height="1"/><rect x="148" y="185.0" width="3" height="1"/><rect x="148" y="181.0" width="1" height="5.0"/><rect x="150" y="181.0" width="1" height="5.0"/><rect x="152" y="185.0" width="3" height="1"/><rect x="152" y="195.0" width="3" height="1"/><rect x="152" y="185.0" width="1" height="11.0"/><rect x="154" y="185.0" width="1" height="11.0"/><rect x="155" y="188.5" width="3" height="1"/><rect x="155" y="195.5" width="3" height="1"/><rect x="155" y="188.5" width="1" height="8.0"/><rect x="157" y="188.5" width="1" height="8.0"/><rect x="158" y="187.0" width="3" height="1"/><rect x="158" y="188.0" width="3" height="1"/><rect x="158" y="187.0" width="1" height="2.0"/><rect x="160" y="187.0" width="1" height="2.0"/><rect x="161" y="175.0" width="3" height="1"/><rect x="161" y="183.0" width="3" height="1"/><rect x="161" y="175.0" width="1" height="9.0"/><rect x="163" y="175.0" width="1" height="9.0"/><rect x="164" y="164.0" width="3" height="1"/><rect x="164" y="173.0" width="3" height="1"/><rect x="164" y="164.0" width="1" height="10.0"/><rect x="166" y="164.0" width="1" height="10.0"/><rect x="167" y="159.0" width="3" height="1"/><rect x="167" y="163.5" width="3" height="1"/><rect x="167" y="159.0" width="1" height="5.5"/><rect x="169" y="159.0" width="1" height="5.5"/><rect x="170" y="156.0" width="3" height="1"/><rect x="170" y="158.0" width="3" height="1"/><rect x="170" y="156.0" width="1" height="3.0"/><rect x="172" y="156.0" width="1" height="3.0"/><rect x="173" y="141.0" width="3" height="1"/><rect x="173" y="156.0" width="3" height="1"/><rect x="173" y="141.0" width="1" height="16.0"/><rect x="175" y="141.0" width="1" height="16.0"/><rect x="179" y="143.0" width="3" height="1"/><rect x="179" y="153.5" width="3" height="1"/><rect x="179" y="143.0" width="1" height="11.5"/><rect x="181" y="143.0" width="1" height="11.5"/><rect x="182" y="155.0" width="3" height="1"/><rect x="182" y="159.5" width="3" height="1"/><rect x="182" y="155.0" width="1" height="5.5"/><rect x="184" y="155.0" width="1" height="5.5"/><rect x="185" y="158.0" width="3" height="1"/><rect x="185" y="159.5" width="3" height="1"/><rect x="185" y="158.0" width="1" height="2.5"/><rect x="187" y="158.0" width="1" height="2.5"/><rect x="188" y="159.0" width="3" height="1"/><rect x="188" y="181.5" width="3" height="1"/><rect x="188" y="159.0" width="1" height="23.5"/><rect x="190" y="159.0" width="1" height="23.5"/><rect x="191" y="182.0" width="3" height="1"/><rect x="191" y="187.0" width="3" height="1"/><rect x="191" y="182.0" width="1" height="6.0"/><rect x="193" y="182.0" width="1" height="6.0"/><rect x="194" y="188.0" width="3" height="1"/><rect x="194" y="199.5" width="3" height="1"/><rect x="194" y="188.0" width="1" height="12.5"/><rect x="196" y="188.0" width="1" height="12.5"/><rect x="197" y="188.0" width="3" height="1"/><rect x="197" y="196.5" width="3" height="1"/><rect x="197" y="188.0" width="1" height="9.5"/><rect x="199" y="188.0" width="1" height="9.5"/><rect x="200" y="188.0" width="3" height="1"/><rect x="200" y="192.5" width="3" height="1"/><rect x="200" y="188.0" width="1" height="5.5"/><rect x="202" y="188.0" width="1" height="5.5"/><rect x="203" y="192.0" width="3" height="1"/><rect x="203" y="196.5" width="3" height="1"/><rect x="203" y="192.0" width="1" height="5.5"/><rect x="205" y="192.0" width="1" height="5.5"/><rect x="206" y="196.0" width="3" height="1"/><rect x="206" y="203.5" width="3" height="1"/><rect x="206" y="196.0" width="1" height="8.5"/><rect x="208" y="196.0" width="1" height="8.5"/><rect x="210" y="203.0" width="3" height="1"/><rect x="210" y="228.0" width="3" height="1"/><rect x="210" y="203.0" width="1" height="26.0"/><rect x="212" y="203.0" width="1" height="26.0"/><rect x="213" y="225.0" width="3" height="1"/><rect x="213" y="247.0" width="3" height="1"/><rect x="213" y="225.0" width="1" height="23.0"/><rect x="215" y="225.0" width="1" height="23.0"/><rect x="216" y="247.0" width="3" height="1"/><rect x="216" y="248.5" width="3" height="1"/><rect x="216" y="247.0" width="1" height="2.5"/><rect x="218" y="247.0" width="1" height="2.5"/><rect x="219" y="247.0" width="3" height="1"/><rect x="219" y="248.5" width="3" height="1"/><rect x="219" y="247.0" width="1" height="2.5"/><rect x="221" y="247.0" width="1" height="2.5"/><rect x="222" y="250.0" width="3" height="1"/><rect x="222" y="261.0" width="3" height="1"/><rect x="222" y="250.0" width="1" height="12.0"/><rect x="224" y="250.0" width="1" height="12.0"/><rect x="225" y="260.0" width="3" height="1"/><rect x="225" y="266.0" width="3" height="1"/><rect x="225" y="260.0" width="1" height="7.0"/><rect x="227" y="260.0" width="1" height="7.0"/><rect x="228" y="262.0" width="3" height="1"/><rect x="228" y="263.0" width="3" height="1"/><rect x="228" y="262.0" width="1" height="2.0"/><rect x="230" y="262.0" width="1" height="2.0"/><rect x="231" y="246.0" width="3" height="1"/><rect x="231" y="260.5" width="3" height="1"/><rect x="231" y="246.0" width="1" height="15.5"/><rect x="233" y="246.0" width="1" height="15.5"/><rect x="234" y="246.0" width="3" height="1"/><rect x="234" y="254.5" width="3" height="1"/><rect x="234" y="246.0" width="1" height="9.5"/><rect x="236" y="246.0" width="1" height="9.5"/><rect x="240" y="254.0" width="3" height="1"/><rect x="240" y="262.5" width="3" height="1"/><rect x="240" y="254.0" width="1" height="9.5"/><rect x="242" y="254.0" width="1" height="9.5"/><rect x="243" y="251.0" width="3" height="1"/><rect x="243" y="263.5" width="3" height="1"/><rect x="243" y="251.0" width="1" height="13.5"/><rect x="245" y="251.0" width="1" height="13.5"/><rect x="249" y="254.0" width="3" height="1"/><rect x="249" y="271.5" width="3" height="1"/><rect x="249" y="254.0" width="1" height="18.5"/><rect x="251" y="254.0" width="1" height="18.5"/><rect x="252" y="272.0" width="3" height="1"/><rect x="252" y="278.5" width="3" height="1"/><rect x="252" y="272.0" width="1" height="7.5"/><rect x="254" y="272.0" width="1" height="7.5"/><rect x="255" y="282.0" width="3" height="1"/><rect x="255" y="286.5" width="3" height="1"/><rect x="255" y="282.0" width="1" height="5.5"/><rect x="257" y="282.0" width="1" height="5.5"/><rect x="258" y="289.0" width="3" height="1"/><rect x="258" y="291.0" width="3" height="1"/><rect x="258" y="289.0" width="1" height="3.0"/><rect x="260" y="289.0" width="1" height="3.0"/><rect x="261" y="288.0" width="3" height="1"/><rect x="261" y="291.5" width="3" height="1"/><rect x="261" y="288.0" width="1" height="4.5"/><rect x="263" y="288.0" width="1" height="4.5"/><rect x="265" y="278.0" width="3" height="1"/><rect x="265" y="286.5" width="3" height="1"/><rect x="265" y="278.0" width="1" height="9.5"/><rect x="267" y="278.0" width="1" height="9.5"/><rect x="268" y="277.0" width="3" height="1"/><rect x="268" y="279.5" width="3" height="1"/><rect x="268" y="277.0" width="1" height="3.5"/><rect x="270" y="277.0" width="1" height="3.5"/><rect x="271" y="280.0" width="3" height="1"/><rect x="271" y="282.0" width="3" height="1"/><rect x="271" y="280.0" width="1" height="3.0"/><rect x="273" y="280.0" width="1" height="3.0"/><rect x="274" y="283.0" width="3" height="1"/><rect x="274" y="285.5" width="3" height="1"/><rect x="274" y="283.0" width="1" height="3.5"/><rect x="276" y="283.0" width="1" height="3.5"/><rect x="277" y="287.0" width="3" height="1"/><rect x="277" y="288.0" width="3" height="1"/><rect x="277" y="287.0" width="1" height="2.0"/><rect x="279" y="287.0" width="1" height="2.0"/><rect x="280" y="289.0" width="3" height="1"/><rect x="280" y="291.0" width="3" height="1"/><rect x="280" y="289.0" width="1" height="3.0"/><rect x="282" y="289.0" width="1" height="3.0"/><rect x="286" y="289.0" width="3" height="1"/><rect x="286" y="290.0" width="3" height="1"/><rect x="286" y="289.0" width="1" height="2.0"/><rect x="288" y="289.0" width="1" height="2.0"/><rect x="289" y="289.0" width="3" height="1"/><rect x="289" y="303.5" width="3" height="1"/><rect x="289" y="289.0" width="1" height="15.5"/><rect x="291" y="289.0" width="1" height="15.5"/><rect x="292" y="283.0" width="3" height="1"/><rect x="292" y="303.0" width="3" height="1"/><rect x="292" y="283.0" width="1" height="21.0"/><rect x="294" y="283.0" width="1" height="21.0"/><rect x="295" y="282.0" width="3" height="1"/><rect x="295" y="283.0" width="3" height="1"/><rect x="295" y="282.0" width="1" height="2.0"/><rect x="297" y="282.0" width="1" height="2.0"/><rect x="298" y="272.0" width="3" height="1"/><rect x="298" y="280.5" width="3" height="1"/><rect x="298" y="272.0" width="1" height="9.5"/><rect x="300" y="272.0" width="1" height="9.5"/><rect x="301" y="272.0" width="3" height="1"/><rect x="301" y="275.5" width="3" height="1"/><rect x="301" y="272.0" width="1" height="4.5"/><rect x="303" y="272.0" width="1" height="4.5"/><rect x="304" y="276.0" width="3" height="1"/><rect x="304" y="278.5" width="3" height="1"/><rect x="304" y="276.0" width="1" height="3.5"/><rect x="306" y="276.0" width="1" height="3.5"/><rect x="307" y="279.0" width="3" height="1"/><rect x="307" y="289.0" width="3" height="1"/><rect x="307" y="279.0" width="1" height="11.0"/><rect x="309" y="279.0" width="1" height="11.0"/><rect x="310" y="284.0" width="3" height="1"/><rect x="310" y="289.0" width="3" height="1"/><rect x="310" y="284.0" width="1" height="6.0"/><rect x="312" y="284.0" width="1" height="6.0"/><rect x="313" y="274.0" width="3" height="1"/><rect x="313" y="284.5" width="3" height="1"/><rect x="313" y="274.0" width="1" height="11.5"/><rect x="315" y="274.0" width="1" height="11.5"/><rect x="316" y="274.0" width="3" height="1"/><rect x="316" y="275.0" width="3" height="1"/><rect x="316" y="274.0" width="1" height="2.0"/><rect x="318" y="274.0" width="1" height="2.0"/><rect x="319" y="275.0" width="3" height="1"/><rect x="319" y="277.0" width="3" height="1"/><rect x="319" y="275.0" width="1" height="3.0"/><rect x="321" y="275.0" width="1" height="3.0"/><rect x="323" y="268.0" width="3" height="1"/><rect x="323" y="276.5" width="3" height="1"/><rect x="323" y="268.0" width="1" height="9.5"/><rect x="325" y="268.0" width="1" height="9.5"/><rect x="326" y="264.0" width="3" height="1"/><rect x="326" y="267.5" width="3" height="1"/><rect x="326" y="264.0" width="1" height="4.5"/><rect x="328" y="264.0" width="1" height="4.5"/><rect x="329" y="259.0" width="3" height="1"/><rect x="329" y="262.5" width="3" height="1"/><rect x="329" y="259.0" width="1" height="4.5"/><rect x="331" y="259.0" width="1" height="4.5"/><rect x="332" y="260.0" width="3" height="1"/><rect x="332" y="265.5" width="3" height="1"/><rect x="332" y="260.0" width="1" height="6.5"/><rect x="334" y="260.0" width="1" height="6.5"/><rect x="335" y="265.0" width="3" height="1"/><rect x="335" y="268.5" width="3" height="1"/><rect x="335" y="265.0" width="1" height="4.5"/><rect x="337" y="265.0" width="1" height="4.5"/><rect x="338" y="268.0" width="3" height="1"/><rect x="338" y="271.5" width="3" height="1"/><rect x="338" y="268.0" width="1" height="4.5"/><rect x="340" y="268.0" width="1" height="4.5"/><rect x="341" y="272.0" width="3" height="1"/><rect x="341" y="274.5" width="3" height="1"/><rect x="341" y="272.0" width="1" height="3.5"/><rect x="343" y="272.0" width="1" height="3.5"/><rect x="344" y="274.0" width="3" height="1"/><rect x="344" y="295.5" width="3" height="1"/><rect x="344" y="274.0" width="1" height="22.5"/><rect x="346" y="274.0" width="1" height="22.5"/><rect x="347" y="296.0" width="3" height="1"/><rect x="347" y="319.5" width="3" height="1"/><rect x="347" y="296.0" width="1" height="24.5"/><rect x="349" y="296.0" width="1" height="24.5"/><rect x="350" y="319.0" width="3" height="1"/><rect x="350" y="321.0" width="3" height="1"/><rect x="350" y="319.0" width="1" height="3.0"/><rect x="352" y="319.0" width="1" height="3.0"/><rect x="353" y="315.0" width="3" height="1"/><rect x="353" y="319.5" width="3" height="1"/><rect x="353" y="315.0" width="1" height="5.5"/><rect x="355" y="315.0" width="1" height="5.5"/><rect x="356" y="315.0" width="3" height="1"/><rect x="356" y="316.0" width="3" height="1"/><rect x="356" y="315.0" width="1" height="2.0"/><rect x="358" y="315.0" width="1" height="2.0"/><rect x="359" y="315.0" width="3" height="1"/><rect x="359" y="317.0" width="3" height="1"/><rect x="359" y="315.0" width="1" height="3.0"/><rect x="361" y="315.0" width="1" height="3.0"/><rect x="362" y="316.0" width="3" height="1"/><rect x="362" y="317.0" width="3" height="1"/><rect x="362" y="316.0" width="1" height="2.0"/><rect x="364" y="316.0" width="1" height="2.0"/><rect x="365" y="317.0" width="3" height="1"/><rect x="365" y="318.5" width="3" height="1"/><rect x="365" y="317.0" width="1" height="2.5"/><rect x="367" y="317.0" width="1" height="2.5"/><rect x="371" y="312.0" width="3" height="1"/><rect x="371" y="316.5" width="3" height="1"/><rect x="371" y="312.0" width="1" height="5.5"/><rect x="373" y="312.0" width="1" height="5.5"/><rect x="374" y="304.0" width="3" height="1"/><rect x="374" y="310.5" width="3" height="1"/><rect x="374" y="304.0" width="1" height="7.5"/><rect x="376" y="304.0" width="1" height="7.5"/><rect x="377" y="300.0" width="3" height="1"/><rect x="377" y="303.5" width="3" height="1"/><rect x="377" y="300.0" width="1" height="4.5"/><rect x="379" y="300.0" width="1" height="4.5"/><rect x="381" y="300.0" width="3" height="1"/><rect x="381" y="301.0" width="3" height="1"/><rect x="381" y="300.0" width="1" height="2.0"/><rect x="383" y="300.0" width="1" height="2.0"/><rect x="384" y="300.0" width="3" height="1"/><rect x="384" y="301.5" width="3" height="1"/><rect x="384" y="300.0" width="1" height="2.5"/><rect x="386" y="300.0" width="1" height="2.5"/><rect x="390" y="304.0" width="3" height="1"/><rect x="390" y="312.5" width="3" height="1"/><rect x="390" y="304.0" width="1" height="9.5"/><rect x="392" y="304.0" width="1" height="9.5"/><rect x="393" y="306.5" width="3" height="1"/><rect x="393" y="313.0" width="3" height="1"/><rect x="393" y="306.5" width="1" height="7.5"/><rect x="395" y="306.5" width="1" height="7.5"/><rect x="396" y="306.5" width="3" height="1"/><rect x="396" y="308.0" width="3" height="1"/><rect x="396" y="306.5" width="1" height="2.5"/><rect x="398" y="306.5" width="1" height="2.5"/><rect x="399" y="294.0" width="3" height="1"/><rect x="399" y="303.5" width="3" height="1"/><rect x="399" y="294.0" width="1" height="10.5"/><rect x="401" y="294.0" width="1" height="10.5"/><rect x="402" y="295.0" width="3" height="1"/><rect x="402" y="296.0" width="3" height="1"/><rect x="402" y="295.0" width="1" height="2.0"/><rect x="404" y="295.0" width="1" height="2.0"/><rect x="405" y="295.0" width="3" height="1"/><rect x="405" y="301.5" width="3" height="1"/><rect x="405" y="295.0" width="1" height="7.5"/><rect x="407" y="295.0" width="1" height="7.5"/><rect x="408" y="301.0" width="3" height="1"/><rect x="408" y="302.0" width="3" height="1"/><rect x="408" y="301.0" width="1" height="2.0"/><rect x="410" y="301.0" width="1" height="2.0"/><rect x="411" y="296.0" width="3" height="1"/><rect x="411" y="299.5" width="3" height="1"/><rect x="411" y="296.0" width="1" height="4.5"/><rect x="413" y="296.0" width="1" height="4.5"/><rect x="414" y="300.0" width="3" height="1"/><rect x="414" y="305.0" width="3" height="1"/><rect x="414" y="300.0" width="1" height="6.0"/><rect x="416" y="300.0" width="1" height="6.0"/><rect x="417" y="302.5" width="3" height="1"/><rect x="417" y="304.0" width="3" height="1"/><rect x="417" y="302.5" width="1" height="2.5"/><rect x="419" y="302.5" width="1" height="2.5"/><rect x="420" y="301.0" width="3" height="1"/><rect x="420" y="302.0" width="3" height="1"/><rect x="420" y="301.0" width="1" height="2.0"/><rect x="422" y="301.0" width="1" height="2.0"/><rect x="423" y="301.0" width="3" height="1"/><rect x="423" y="307.5" width="3" height="1"/><rect x="423" y="301.0" width="1" height="7.5"/><rect x="425" y="301.0" width="1" height="7.5"/><rect x="426" y="308.0" width="3" height="1"/><rect x="426" y="309.0" width="3" height="1"/><rect x="426" y="308.0" width="1" height="2.0"/><rect x="428" y="308.0" width="1" height="2.0"/><rect x="429" y="306.0" width="3" height="1"/><rect x="429" y="308.5" width="3" height="1"/><rect x="429" y="306.0" width="1" height="3.5"/><rect x="431" y="306.0" width="1" height="3.5"/><rect x="432" y="306.0" width="3" height="1"/><rect x="432" y="307.5" width="3" height="1"/><rect x="432" y="306.0" width="1" height="2.5"/><rect x="434" y="306.0" width="1" height="2.5"/><rect x="439" y="309.0" width="3" height="1"/><rect x="439" y="309.5" width="3" height="1"/><rect x="439" y="309.0" width="1" height="1.5"/><rect x="441" y="309.0" width="1" height="1.5"/><rect x="442" y="309.0" width="3" height="1"/><rect x="442" y="318.0" width="3" height="1"/><rect x="442" y="309.0" width="1" height="10.0"/><rect x="444" y="309.0" width="1" height="10.0"/><rect x="445" y="307.0" width="3" height="1"/><rect x="445" y="318.0" width="3" height="1"/><rect x="445" y="307.0" width="1" height="12.0"/><rect x="447" y="307.0" width="1" height="12.0"/><rect x="448" y="308.0" width="3" height="1"/><rect x="448" y="309.5" width="3" height="1"/><rect x="448" y="308.0" width="1" height="2.5"/><rect x="450" y="308.0" width="1" height="2.5"/><rect x="451" y="309.0" width="3" height="1"/><rect x="451" y="310.5" width="3" height="1"/><rect x="451" y="309.0" width="1" height="2.5"/><rect x="453" y="309.0" width="1" height="2.5"/><rect x="454" y="309.0" width="3" height="1"/><rect x="454" y="311.5" width="3" height="1"/><rect x="454" y="309.0" width="1" height="3.5"/><rect x="456" y="309.0" width="1" height="3.5"/><rect x="457" y="312.0" width="3" height="1"/><rect x="457" y="314.5" width="3" height="1"/><rect x="457" y="312.0" width="1" height="3.5"/><rect x="459" y="312.0" width="1" height="3.5"/><rect x="460" y="316.0" width="3" height="1"/><rect x="460" y="317.0" width="3" height="1"/><rect x="460" y="316.0" width="1" height="2.0"/><rect x="462" y="316.0" width="1" height="2.0"/><rect x="463" y="316.0" width="3" height="1"/><rect x="463" y="317.0" width="3" height="1"/><rect x="463" y="316.0" width="1" height="2.0"/><rect x="465" y="316.0" width="1" height="2.0"/><rect x="466" y="318.0" width="3" height="1"/><rect x="466" y="318.5" width="3" height="1"/><rect x="466" y="318.0" width="1" height="1.5"/><rect x="468" y="318.0" width="1" height="1.5"/><rect x="469" y="318.0" width="3" height="1"/><rect x="469" y="320.0" width="3" height="1"/><rect x="469" y="318.0" width="1" height="3.0"/><rect x="471" y="318.0" width="1" height="3.0"/><rect x="472" y="321.0" width="3" height="1"/><rect x="472" y="323.5" width="3" height="1"/><rect x="472" y="321.0" width="1" height="3.5"/><rect x="474" y="321.0" width="1" height="3.5"/><rect x="478" y="323.0" width="3" height="1"/><rect x="478" y="323.5" width="3" height="1"/><rect x="478" y="323.0" width="1" height="1.5"/><rect x="480" y="323.0" width="1" height="1.5"/><rect x="484" y="320.0" width="3" height="1"/><rect x="484" y="323.0" width="3" height="1"/><rect x="484" y="320.0" width="1" height="4.0"/><rect x="486" y="320.0" width="1" height="4.0"/><rect x="487" y="319.0" width="3" height="1"/><rect x="487" y="320.0" width="3" height="1"/><rect x="487" y="319.0" width="1" height="2.0"/><rect x="489" y="319.0" width="1" height="2.0"/><rect x="490" y="318.0" width="3" height="1"/><rect x="490" y="318.5" width="3" height="1"/><rect x="490" y="318.0" width="1" height="1.5"/><rect x="492" y="318.0" width="1" height="1.5"/><rect x="494" y="313.0" width="3" height="1"/><rect x="494" y="316.5" width="3" height="1"/><rect x="494" y="313.0" width="1" height="4.5"/><rect x="496" y="313.0" width="1" height="4.5"/><rect x="497" y="304.0" width="3" height="1"/><rect x="497" y="312.5" width="3" height="1"/><rect x="497" y="304.0" width="1" height="9.5"/><rect x="499" y="304.0" width="1" height="9.5"/><rect x="500" y="305.0" width="3" height="1"/><rect x="500" y="306.0" width="3" height="1"/><rect x="500" y="305.0" width="1" height="2.0"/><rect x="502" y="305.0" width="1" height="2.0"/><rect x="503" y="305.0" width="3" height="1"/><rect x="503" y="314.0" width="3" height="1"/><rect x="503" y="305.0" width="1" height="10.0"/><rect x="505" y="305.0" width="1" height="10.0"/><rect x="506" y="304.0" width="3" height="1"/><rect x="506" y="313.5" width="3" height="1"/><rect x="506" y="304.0" width="1" height="10.5"/><rect x="508" y="304.0" width="1" height="10.5"/><rect x="509" y="303.0" width="3" height="1"/><rect x="509" y="310.5" width="3" height="1"/><rect x="509" y="303.0" width="1" height="8.5"/><rect x="511" y="303.0" width="1" height="8.5"/><rect x="512" y="310.0" width="3" height="1"/><rect x="512" y="314.5" width="3" height="1"/><rect x="512" y="310.0" width="1" height="5.5"/><rect x="514" y="310.0" width="1" height="5.5"/><rect x="515" y="310.0" width="3" height="1"/><rect x="515" y="313.0" width="3" height="1"/><rect x="515" y="310.0" width="1" height="4.0"/><rect x="517" y="310.0" width="1" height="4.0"/><rect x="518" y="312.0" width="3" height="1"/><rect x="518" y="320.0" width="3" height="1"/><rect x="518" y="312.0" width="1" height="9.0"/><rect x="520" y="312.0" width="1" height="9.0"/><rect x="521" y="320.0" width="3" height="1"/><rect x="521" y="324.0" width="3" height="1"/><rect x="521" y="320.0" width="1" height="5.0"/><rect x="523" y="320.0" width="1" height="5.0"/><rect x="524" y="317.0" width="3" height="1"/><rect x="524" y="318.0" width="3" height="1"/><rect x="524" y="317.0" width="1" height="2.0"/><rect x="526" y="317.0" width="1" height="2.0"/><rect x="527" y="314.0" width="3" height="1"/><rect x="527" y="316.5" width="3" height="1"/><rect x="527" y="314.0" width="1" height="3.5"/><rect x="529" y="314.0" width="1" height="3.5"/><rect x="530" y="314.0" width="3" height="1"/><rect x="530" y="316.5" width="3" height="1"/><rect x="530" y="314.0" width="1" height="3.5"/><rect x="532" y="314.0" width="1" height="3.5"/><rect x="533" y="313.0" width="3" height="1"/><rect x="533" y="318.0" width="3" height="1"/><rect x="533" y="313.0" width="1" height="6.0"/><rect x="535" y="313.0" width="1" height="6.0"/><rect x="536" y="311.0" width="3" height="1"/><rect x="536" y="312.0" width="3" height="1"/><rect x="536" y="311.0" width="1" height="2.0"/><rect x="538" y="311.0" width="1" height="2.0"/><rect x="539" y="311.0" width="3" height="1"/><rect x="539" y="314.5" width="3" height="1"/><rect x="539" y="311.0" width="1" height="4.5"/><rect x="541" y="311.0" width="1" height="4.5"/><rect x="542" y="313.0" width="3" height="1"/><rect x="542" y="316.5" width="3" height="1"/><rect x="542" y="313.0" width="1" height="4.5"/><rect x="544" y="313.0" width="1" height="4.5"/><rect x="545" y="315.0" width="3" height="1"/><rect x="545" y="318.0" width="3" height="1"/><rect x="545" y="315.0" width="1" height="4.0"/><rect x="547" y="315.0" width="1" height="4.0"/><rect x="548" y="315.0" width="3" height="1"/><rect x="548" y="316.0" width="3" height="1"/><rect x="548" y="315.0" width="1" height="2.0"/><rect x="550" y="315.0" width="1" height="2.0"/><rect x="552" y="315.0" width="3" height="1"/><rect x="552" y="331.0" width="3" height="1"/><rect x="552" y="315.0" width="1" height="17.0"/><rect x="554" y="315.0" width="1" height="17.0"/><rect x="555" y="324.0" width="3" height="1"/><rect x="555" y="331.0" width="3" height="1"/><rect x="555" y="324.0" width="1" height="8.0"/><rect x="557" y="324.0" width="1" height="8.0"/><rect x="558" y="323.0" width="3" height="1"/><rect x="558" y="324.0" width="3" height="1"/><rect x="558" y="323.0" width="1" height="2.0"/><rect x="560" y="323.0" width="1" height="2.0"/><rect x="561" y="320.0" width="3" height="1"/><rect x="561" y="322.5" width="3" height="1"/><rect x="561" y="320.0" width="1" height="3.5"/><rect x="563" y="320.0" width="1" height="3.5"/><rect x="564" y="320.0" width="3" height="1"/><rect x="564" y="320.5" width="3" height="1"/><rect x="564" y="320.0" width="1" height="1.5"/><rect x="566" y="320.0" width="1" height="1.5"/><rect x="567" y="318.0" width="3" height="1"/><rect x="567" y="320.0" width="3" height="1"/><rect x="567" y="318.0" width="1" height="3.0"/><rect x="569" y="318.0" width="1" height="3.0"/><rect x="570" y="318.0" width="3" height="1"/><rect x="570" y="336.5" width="3" height="1"/><rect x="570" y="318.0" width="1" height="19.5"/><rect x="572" y="318.0" width="1" height="19.5"/><rect x="573" y="336.0" width="3" height="1"/><rect x="573" y="337.0" width="3" height="1"/><rect x="573" y="336.0" width="1" height="2.0"/><rect x="575" y="336.0" width="1" height="2.0"/><rect x="576" y="334.0" width="3" height="1"/><rect x="576" y="336.0" width="3" height="1"/><rect x="576" y="334.0" width="1" height="3.0"/><rect x="578" y="334.0" width="1" height="3.0"/><rect x="579" y="333.0" width="3" height="1"/><rect x="579" y="334.0" width="3" height="1"/><rect x="579" y="333.0" width="1" height="2.0"/><rect x="581" y="333.0" width="1" height="2.0"/><rect x="582" y="334.0" width="3" height="1"/><rect x="582" y="339.0" width="3" height="1"/><rect x="582" y="334.0" width="1" height="6.0"/><rect x="584" y="334.0" width="1" height="6.0"/><rect x="588" y="340.5" width="3" height="1"/><rect x="588" y="342.0" width="3" height="1"/><rect x="588" y="340.5" width="1" height="2.5"/><rect x="590" y="340.5" width="1" height="2.5"/><rect x="591" y="340.0" width="3" height="1"/><rect x="591" y="342.0" width="3" height="1"/><rect x="591" y="340.0" width="1" height="3.0"/><rect x="593" y="340.0" width="1" height="3.0"/><rect x="594" y="341.0" width="3" height="1"/><rect x="594" y="342.5" width="3" height="1"/><rect x="594" y="341.0" width="1" height="2.5"/><rect x="596" y="341.0" width="1" height="2.5"/><rect x="597" y="342.0" width="3" height="1"/><rect x="597" y="342.5" width="3" height="1"/><rect x="597" y="342.0" width="1" height="1.5"/><rect x="599" y="342.0" width="1" height="1.5"/><rect x="600" y="342.0" width="3" height="1"/><rect x="600" y="342.5" width="3" height="1"/><rect x="600" y="342.0" width="1" height="1.5"/><rect x="602" y="342.0" width="1" height="1.5"/><rect x="603" y="341.5" width="3" height="1"/><rect x="603" y="342.0" width="3" height="1"/><rect x="603" y="341.5" width="1" height="1.5"/><rect x="605" y="341.5" width="1" height="1.5"/><rect x="607" y="339.0" width="3" height="1"/><rect x="607" y="341.5" width="3" height="1"/><rect x="607" y="339.0" width="1" height="3.5"/><rect x="609" y="339.0" width="1" height="3.5"/><rect x="610" y="339.0" width="3" height="1"/><rect x="610" y="343.5" width="3" height="1"/><rect x="610" y="339.0" width="1" height="5.5"/><rect x="612" y="339.0" width="1" height="5.5"/><rect x="613" y="344.0" width="3" height="1"/><rect x="613" y="347.5" width="3" height="1"/><rect x="613" y="344.0" width="1" height="4.5"/><rect x="615" y="344.0" width="1" height="4.5"/><rect x="616" y="346.0" width="3" height="1"/><rect x="616" y="346.5" width="3" height="1"/><rect x="616" y="346.0" width="1" height="1.5"/><rect x="618" y="346.0" width="1" height="1.5"/><rect x="619" y="346.0" width="3" height="1"/><rect x="619" y="346.5" width="3" height="1"/><rect x="619" y="346.0" width="1" height="1.5"/><rect x="621" y="346.0" width="1" height="1.5"/><rect x="625" y="346.0" width="3" height="1"/><rect x="625" y="347.0" width="3" height="1"/><rect x="625" y="346.0" width="1" height="2.0"/><rect x="627" y="346.0" width="1" height="2.0"/><rect x="628" y="344.0" width="3" height="1"/><rect x="628" y="346.0" width="3" height="1"/><rect x="628" y="344.0" width="1" height="3.0"/><rect x="630" y="344.0" width="1" height="3.0"/><rect x="631" y="344.5" width="3" height="1"/><rect x="631" y="345.0" width="3" height="1"/><rect x="631" y="344.5" width="1" height="1.5"/><rect x="633" y="344.5" width="1" height="1.5"/><rect x="637" y="343.0" width="3" height="1"/><rect x="637" y="344.5" width="3" height="1"/><rect x="637" y="343.0" width="1" height="2.5"/><rect x="639" y="343.0" width="1" height="2.5"/><rect x="640" y="342.0" width="3" height="1"/><rect x="640" y="343.0" width="3" height="1"/><rect x="640" y="342.0" width="1" height="2.0"/><rect x="642" y="342.0" width="1" height="2.0"/><rect x="643" y="343.0" width="3" height="1"/><rect x="643" y="348.0" width="3" height="1"/><rect x="643" y="343.0" width="1" height="6.0"/><rect x="645" y="343.0" width="1" height="6.0"/><rect x="646" y="347.0" width="3" height="1"/><rect x="646" y="348.5" width="3" height="1"/><rect x="646" y="347.0" width="1" height="2.5"/><rect x="648" y="347.0" width="1" height="2.5"/><rect x="649" y="347.0" width="3" height="1"/><rect x="649" y="351.0" width="3" height="1"/><rect x="649" y="347.0" width="1" height="5.0"/><rect x="651" y="347.0" width="1" height="5.0"/><rect x="652" y="351.0" width="3" height="1"/><rect x="652" y="352.5" width="3" height="1"/><rect x="652" y="351.0" width="1" height="2.5"/><rect x="654" y="351.0" width="1" height="2.5"/><rect x="655" y="353.0" width="3" height="1"/><rect x="655" y="354.5" width="3" height="1"/><rect x="655" y="353.0" width="1" height="2.5"/><rect x="657" y="353.0" width="1" height="2.5"/></g>
</g>
<g stroke="#ff0000" stroke-width="3" fill="none">
<line x1="464" y1="288.6" x2="714.2" y2="354.2"/>
<line x1="464" y1="310.5" x2="714.2" y2="376.2"/>
</g>
<text x="9" y="370" fill="#000">31.10</text>
<rect x="4" y="374" width="807" height="1" fill="#000" shape-rendering="crispEdges"/>
<rect x="662" y="21" width="4" height="401" fill="#6000c0" shape-rendering="crispEdges"/>
<text x="667" y="420" fill="#6000c0">26/02/26</text>
<rect x="4" y="360" width="807" height="4" fill="#000080" shape-rendering="crispEdges"/>
<text x="9" y="358" fill="#000080">43.03</text>
<g fill="#555">
<text x="816" y="64">350.0</text>
<text x="816" y="113">300.0</text>
<text x="816" y="162">250.0</text>
<text x="816" y="211">200.0</text>
<text x="816" y="260">150.00</text>
<text x="816" y="309">100.00</text>
<text x="816" y="406">0</text>
<text x="816" y="466">4000K</text><text x="816" y="513">2000K</text>
</g>
<rect x="813" y="348" width="47" height="17" fill="#606060" shape-rendering="crispEdges"/>
<text x="816" y="361" fill="#fff">50.90</text>
<text x="816" y="361" fill="#fff">50.90</text>
<g><rect x="8" y="541.0" width="2" height="18.0" fill="#ff3c3c"/><rect x="11" y="537.5" width="2" height="21.5" fill="#ff3c3c"/><rect x="14" y="543.0" width="2" height="16.0" fill="#ff3c3c"/><rect x="17" y="544.0" width="2" height="15.0" fill="#3ab83a"/><rect x="20" y="539.0" width="2" height="20.0" fill="#3ab83a"/><rect x="23" y="531.5" width="2" height="27.5" fill="#ff3c3c"/><rect x="26" y="536.0" width="2" height="23.0" fill="#ff3c3c"/><rect x="29" y="534.0" width="2" height="25.0" fill="#ff3c3c"/><rect x="32" y="536.0" width="2" height="23.0" fill="#3ab83a"/><rect x="35" y="542.8" width="2" height="16.2" fill="#ff3c3c"/><rect x="39" y="543.8" width="2" height="15.2" fill="#3ab83a"/><rect x="42" y="544.0" width="2" height="15.0" fill="#ff3c3c"/><rect x="45" y="545.8" width="2" height="13.2" fill="#ff3c3c"/><rect x="48" y="544.2" width="2" height="14.8" fill="#3ab83a"/><rect x="51" y="544.5" width="2" height="14.5" fill="#3ab83a"/><rect x="54" y="543.8" width="2" height="15.2" fill="#ff3c3c"/><rect x="57" y="545.5" width="2" height="13.5" fill="#ff3c3c"/><rect x="60" y="544.8" width="2" height="14.2" fill="#ff3c3c"/><rect x="63" y="547.8" width="2" height="11.2" fill="#3ab83a"/><rect x="66" y="548.0" width="2" height="11.0" fill="#ff3c3c"/><rect x="69" y="547.5" width="2" height="11.5" fill="#ff3c3c"/><rect x="72" y="542.0" width="2" height="17.0" fill="#ff3c3c"/><rect x="75" y="547.0" width="2" height="12.0" fill="#3ab83a"/><rect x="78" y="545.5" width="2" height="13.5" fill="#3ab83a"/><rect x="81" y="546.8" width="2" height="12.2" fill="#3ab83a"/><rect x="84" y="545.2" width="2" height="13.8" fill="#3ab83a"/><rect x="87" y="545.2" width="2" height="13.8" fill="#3ab83a"/><rect x="90" y="541.5" width="2" height="17.5" fill="#ff3c3c"/><rect x="94" y="546.0" width="2" height="13.0" fill="#ff3c3c"/><rect x="97" y="545.3" width="2" height="13.7" fill="#3ab83a"/><rect x="100" y="549.2" width="2" height="9.8" fill="#ff3c3c"/><rect x="103" y="549.2" width="2" height="9.8" fill="#ff3c3c"/><rect x="106" y="538.0" width="2" height="21.0" fill="#3ab83a"/><rect x="109" y="547.2" width="2" height="11.8" fill="#3ab83a"/><rect x="112" y="538.0" width="2" height="21.0" fill="#ff3c3c"/><rect x="115" y="538.2" width="2" height="20.8" fill="#ff3c3c"/><rect x="118" y="540.2" width="2" height="18.8" fill="#3ab83a"/><rect x="121" y="544.2" width="2" height="14.8" fill="#ff3c3c"/><rect x="124" y="545.2" width="2" height="13.8" fill="#3ab83a"/><rect x="127" y="544.5" width="2" height="14.5" fill="#3ab83a"/><rect x="130" y="542.0" width="2" height="17.0" fill="#3ab83a"/><rect x="133" y="538.8" width="2" height="20.2" fill="#ff3c3c"/><rect x="136" y="461.2" width="2" height="97.8" fill="#ff3c3c"/><rect x="139" y="484.7" width="2" height="74.3" fill="#3ab83a"/><rect x="142" y="523.2" width="2" height="35.8" fill="#ff3c3c"/><rect x="145" y="519.2" width="2" height="39.8" fill="#3ab83a"/><rect x="148" y="527.2" width="2" height="31.8" fill="#ff3c3c"/><rect x="152" y="532.2" width="2" height="26.8" fill="#ff3c3c"/><rect x="155" y="537.5" width="2" height="21.5" fill="#3ab83a"/><rect x="158" y="548.5" width="2" height="10.5" fill="#3ab83a"/><rect x="161" y="540.5" width="2" height="18.5" fill="#3ab83a"/><rect x="164" y="535.2" width="2" height="23.8" fill="#3ab83a"/><rect x="167" y="540.2" width="2" height="18.8" fill="#3ab83a"/><rect x="170" y="546.2" width="2" height="12.8" fill="#3ab83a"/><rect x="173" y="537.2" width="2" height="21.8" fill="#3ab83a"/><rect x="176" y="542.2" width="2" height="16.8" fill="#ff3c3c"/><rect x="179" y="535.8" width="2" height="23.2" fill="#ff3c3c"/><rect x="182" y="539.0" width="2" height="20.0" fill="#ff3c3c"/><rect x="185" y="537.7" width="2" height="21.3" fill="#3ab83a"/><rect x="188" y="533.5" width="2" height="25.5" fill="#ff3c3c"/><rect x="191" y="524.5" width="2" height="34.5" fill="#ff3c3c"/><rect x="194" y="530.2" width="2" height="28.8" fill="#ff3c3c"/><rect x="197" y="536.5" width="2" height="22.5" fill="#3ab83a"/><rect x="200" y="543.0" width="2" height="16.0" fill="#ff3c3c"/><rect x="203" y="541.5" width="2" height="17.5" fill="#ff3c3c"/><rect x="206" y="533.5" width="2" height="25.5" fill="#ff3c3c"/><rect x="210" y="503.2" width="2" height="55.8" fill="#ff3c3c"/><rect x="213" y="524.0" width="2" height="35.0" fill="#ff3c3c"/><rect x="216" y="521.2" width="2" height="37.8" fill="#ff3c3c"/><rect x="219" y="537.0" width="2" height="22.0" fill="#ff3c3c"/><rect x="222" y="523.5" width="2" height="35.5" fill="#ff3c3c"/><rect x="225" y="526.0" width="2" height="33.0" fill="#ff3c3c"/><rect x="228" y="531.0" width="2" height="28.0" fill="#3ab83a"/><rect x="231" y="507.5" width="2" height="51.5" fill="#3ab83a"/><rect x="234" y="531.0" width="2" height="28.0" fill="#ff3c3c"/><rect x="237" y="537.7" width="2" height="21.3" fill="#3ab83a"/><rect x="240" y="538.2" width="2" height="20.8" fill="#ff3c3c"/><rect x="243" y="538.2" width="2" height="20.8" fill="#3ab83a"/><rect x="246" y="543.5" width="2" height="15.5" fill="#ff3c3c"/><rect x="249" y="496.9" width="2" height="62.1" fill="#ff3c3c"/><rect x="252" y="513.5" width="2" height="45.5" fill="#ff3c3c"/><rect x="255" y="526.3" width="2" height="32.7" fill="#ff3c3c"/><rect x="258" y="531.0" width="2" height="28.0" fill="#ff3c3c"/><rect x="261" y="533.0" width="2" height="26.0" fill="#3ab83a"/><rect x="265" y="527.3" width="2" height="31.7" fill="#3ab83a"/><rect x="268" y="535.2" width="2" height="23.8" fill="#ff3c3c"/><rect x="271" y="534.0" width="2" height="25.0" fill="#ff3c3c"/><rect x="274" y="534.5" width="2" height="24.5" fill="#ff3c3c"/><rect x="277" y="530.5" width="2" height="28.5" fill="#ff3c3c"/><rect x="280" y="532.2" width="2" height="26.8" fill="#ff3c3c"/><rect x="283" y="537.5" width="2" height="21.5" fill="#ff3c3c"/><rect x="286" y="538.5" width="2" height="20.5" fill="#3ab83a"/><rect x="289" y="513.5" width="2" height="45.5" fill="#ff3c3c"/><rect x="292" y="525.2" width="2" height="33.8" fill="#3ab83a"/><rect x="295" y="521.2" width="2" height="37.8" fill="#3ab83a"/><rect x="298" y="531.3" width="2" height="27.7" fill="#3ab83a"/><rect x="301" y="546.3" width="2" height="12.7" fill="#ff3c3c"/><rect x="304" y="537.0" width="2" height="22.0" fill="#ff3c3c"/><rect x="307" y="526.0" width="2" height="33.0" fill="#ff3c3c"/><rect x="310" y="523.3" width="2" height="35.7" fill="#3ab83a"/><rect x="313" y="535.0" width="2" height="24.0" fill="#3ab83a"/><rect x="316" y="548.0" width="2" height="11.0" fill="#ff3c3c"/><rect x="319" y="546.5" width="2" height="12.5" fill="#ff3c3c"/><rect x="323" y="534.5" width="2" height="24.5" fill="#3ab83a"/><rect x="326" y="533.7" width="2" height="25.3" fill="#3ab83a"/><rect x="329" y="526.3" width="2" height="32.7" fill="#3ab83a"/><rect x="332" y="539.7" width="2" height="19.3" fill="#ff3c3c"/><rect x="335" y="544.5" width="2" height="14.5" fill="#ff3c3c"/><rect x="338" y="538.5" width="2" height="20.5" fill="#ff3c3c"/><rect x="341" y="544.2" width="2" height="14.8" fill="#ff3c3c"/><rect x="344" y="489.1" width="2" height="69.9" fill="#ff3c3c"/><rect x="347" y="468.7" width="2" height="90.3" fill="#ff3c3c"/><rect x="350" y="480.1" width="2" height="78.9" fill="#3ab83a"/><rect x="353" y="516.0" width="2" height="43.0" fill="#3ab83a"/><rect x="356" y="538.0" width="2" height="21.0" fill="#ff3c3c"/><rect x="359" y="536.2" width="2" height="22.8" fill="#3ab83a"/><rect x="362" y="527.5" width="2" height="31.5" fill="#ff3c3c"/><rect x="365" y="534.0" width="2" height="25.0" fill="#ff3c3c"/><rect x="368" y="530.7" width="2" height="28.3" fill="#3ab83a"/><rect x="371" y="518.3" width="2" height="40.7" fill="#3ab83a"/><rect x="374" y="530.2" width="2" height="28.8" fill="#3ab83a"/><rect x="377" y="524.0" width="2" height="35.0" fill="#3ab83a"/><rect x="381" y="537.5" width="2" height="21.5" fill="#ff3c3c"/><rect x="384" y="525.3" width="2" height="33.7" fill="#ff3c3c"/><rect x="387" y="534.3" width="2" height="24.7" fill="#3ab83a"/><rect x="390" y="529.7" width="2" height="29.3" fill="#ff3c3c"/><rect x="393" y="531.0" width="2" height="28.0" fill="#3ab83a"/><rect x="396" y="529.5" width="2" height="29.5" fill="#ff3c3c"/><rect x="399" y="522.5" width="2" height="36.5" fill="#3ab83a"/><rect x="402" y="534.2" width="2" height="24.8" fill="#ff3c3c"/><rect x="405" y="528.2" width="2" height="30.8" fill="#ff3c3c"/><rect x="408" y="539.5" width="2" height="19.5" fill="#3ab83a"/><rect x="411" y="520.5" width="2" height="38.5" fill="#3ab83a"/><rect x="414" y="532.2" width="2" height="26.8" fill="#ff3c3c"/><rect x="417" y="545.3" width="2" height="13.7" fill="#3ab83a"/><rect x="420" y="547.7" width="2" height="11.3" fill="#3ab83a"/><rect x="423" y="534.5" width="2" height="24.5" fill="#ff3c3c"/><rect x="426" y="533.7" width="2" height="25.3" fill="#ff3c3c"/><rect x="429" y="537.7" width="2" height="21.3" fill="#3ab83a"/><rect x="432" y="537.0" width="2" height="22.0" fill="#ff3c3c"/><rect x="436" y="524.5" width="2" height="34.5" fill="#ff3c3c"/><rect x="439" y="534.0" width="2" height="25.0" fill="#ff3c3c"/><rect x="442" y="530.8" width="2" height="28.2" fill="#ff3c3c"/><rect x="445" y="522.3" width="2" height="36.7" fill="#3ab83a"/><rect x="448" y="544.0" width="2" height="15.0" fill="#ff3c3c"/><rect x="451" y="541.3" width="2" height="17.7" fill="#3ab83a"/><rect x="454" y="529.0" width="2" height="30.0" fill="#ff3c3c"/><rect x="457" y="529.8" width="2" height="29.2" fill="#ff3c3c"/><rect x="460" y="532.3" width="2" height="26.7" fill="#ff3c3c"/><rect x="463" y="530.8" width="2" height="28.2" fill="#ff3c3c"/><rect x="466" y="533.5" width="2" height="25.5" fill="#ff3c3c"/><rect x="469" y="537.0" width="2" height="22.0" fill="#ff3c3c"/><rect x="472" y="515.5" width="2" height="43.5" fill="#ff3c3c"/><rect x="475" y="549.2" width="2" height="9.8" fill="#ff3c3c"/><rect x="478" y="546.2" width="2" height="12.8" fill="#3ab83a"/><rect x="481" y="530.8" width="2" height="28.2" fill="#3ab83a"/><rect x="484" y="527.3" width="2" height="31.7" fill="#3ab83a"/><rect x="487" y="539.5" width="2" height="19.5" fill="#3ab83a"/><rect x="490" y="533.2" width="2" height="25.8" fill="#3ab83a"/><rect x="494" y="532.2" width="2" height="26.8" fill="#3ab83a"/><rect x="497" y="526.7" width="2" height="32.3" fill="#3ab83a"/><rect x="500" y="539.5" width="2" height="19.5" fill="#ff3c3c"/><rect x="503" y="508.5" width="2" height="50.5" fill="#ff3c3c"/><rect x="506" y="512.8" width="2" height="46.2" fill="#3ab83a"/><rect x="509" y="525.5" width="2" height="33.5" fill="#ff3c3c"/><rect x="512" y="523.3" width="2" height="35.7" fill="#ff3c3c"/><rect x="515" y="531.3" width="2" height="27.7" fill="#3ab83a"/><rect x="518" y="523.2" width="2" height="35.8" fill="#ff3c3c"/><rect x="521" y="522.5" width="2" height="36.5" fill="#3ab83a"/><rect x="524" y="542.5" width="2" height="16.5" fill="#3ab83a"/><rect x="527" y="543.3" width="2" height="15.7" fill="#3ab83a"/><rect x="530" y="529.5" width="2" height="29.5" fill="#ff3c3c"/><rect x="533" y="528.2" width="2" height="30.8" fill="#3ab83a"/><rect x="536" y="536.8" width="2" height="22.2" fill="#3ab83a"/><rect x="539" y="539.0" width="2" height="20.0" fill="#ff3c3c"/><rect x="542" y="531.7" width="2" height="27.3" fill="#ff3c3c"/><rect x="545" y="529.5" width="2" height="29.5" fill="#3ab83a"/><rect x="548" y="534.5" width="2" height="24.5" fill="#ff3c3c"/><rect x="552" y="480.2" width="2" height="78.8" fill="#ff3c3c"/><rect x="555" y="518.0" width="2" height="41.0" fill="#3ab83a"/><rect x="558" y="524.2" width="2" height="34.8" fill="#3ab83a"/><rect x="561" y="530.2" width="2" height="28.8" fill="#3ab83a"/><rect x="564" y="532.3" width="2" height="26.7" fill="#ff3c3c"/><rect x="567" y="534.2" width="2" height="24.8" fill="#3ab83a"/><rect x="570" y="501.2" width="2" height="57.8" fill="#ff3c3c"/><rect x="573" y="507.2" width="2" height="51.8" fill="#3ab83a"/><rect x="576" y="527.7" width="2" height="31.3" fill="#3ab83a"/><rect x="579" y="530.7" width="2" height="28.3" fill="#ff3c3c"/><rect x="582" y="520.3" width="2" height="38.7" fill="#ff3c3c"/><rect x="585" y="529.0" width="2" height="30.0" fill="#ff3c3c"/><rect x="588" y="523.3" width="2" height="35.7" fill="#ff3c3c"/><rect x="591" y="499.1" width="2" height="59.9" fill="#3ab83a"/><rect x="594" y="516.5" width="2" height="42.5" fill="#ff3c3c"/><rect x="597" y="532.3" width="2" height="26.7" fill="#3ab83a"/><rect x="600" y="531.3" width="2" height="27.7" fill="#ff3c3c"/><rect x="603" y="533.2" width="2" height="25.8" fill="#3ab83a"/><rect x="607" y="531.3" width="2" height="27.7" fill="#3ab83a"/><rect x="610" y="535.0" width="2" height="24.0" fill="#ff3c3c"/><rect x="613" y="514.2" width="2" height="44.8" fill="#ff3c3c"/><rect x="616" y="535.3" width="2" height="23.7" fill="#3ab83a"/><rect x="619" y="527.3" width="2" height="31.7" fill="#3ab83a"/><rect x="622" y="445.1" width="2" height="113.9" fill="#ff3c3c"/><rect x="625" y="529.3" width="2" height="29.7" fill="#3ab83a"/><rect x="628" y="534.8" width="2" height="24.2" fill="#3ab83a"/><rect x="631" y="512.0" width="2" height="47.0" fill="#ff3c3c"/><rect x="634" y="551.8" width="2" height="7.2" fill="#3ab83a"/><rect x="637" y="544.5" width="2" height="14.5" fill="#3ab83a"/><rect x="640" y="527.5" width="2" height="31.5" fill="#ff3c3c"/><rect x="643" y="524.2" width="2" height="34.8" fill="#ff3c3c"/><rect x="646" y="528.2" width="2" height="30.8" fill="#3ab83a"/><rect x="649" y="506.0" width="2" height="53.0" fill="#ff3c3c"/><rect x="652" y="524.0" width="2" height="35.0" fill="#ff3c3c"/><rect x="655" y="540.2" width="2" height="18.8" fill="#ff3c3c"/></g>
<text x="9" y="438" fill="#33bb33">VOLUME</text>
<clipPath id="c0"><rect x="812" y="540" width="48" height="19"/></clipPath>
<text x="816" y="561" fill="#555" clip-path="url(#c0)">0</text>
<rect x="813" y="526" width="47" height="17" fill="#00a800" shape-rendering="crispEdges"/>
<text x="816" y="539" fill="#fff">800K</text>
<text x="816" y="539" fill="#fff">800K</text>
<g fill="#555" text-anchor="middle">
<text x="92" y="574">07/2022</text>
<text x="172" y="574">01/2023</text>
<text x="251" y="574">07/2023</text>
<text x="331" y="574">01/2024</text>
<text x="410" y="574">07/2024</text>
<text x="489" y="574">01/2025</text>
<text x="569" y="574">07/2025</text>
<text x="648" y="574">01/2026</text>
<text x="728" y="574">07/2026</text>
<text x="807" y="574">01/2027</text>
</g>
<text x="4" y="13" fill="#777">TELEPERFORMANCE - abcbourse.com</text>
<text x="811" y="13" fill="#777" text-anchor="end">5 ANS - HEBDO</text>
</svg></body></html>
